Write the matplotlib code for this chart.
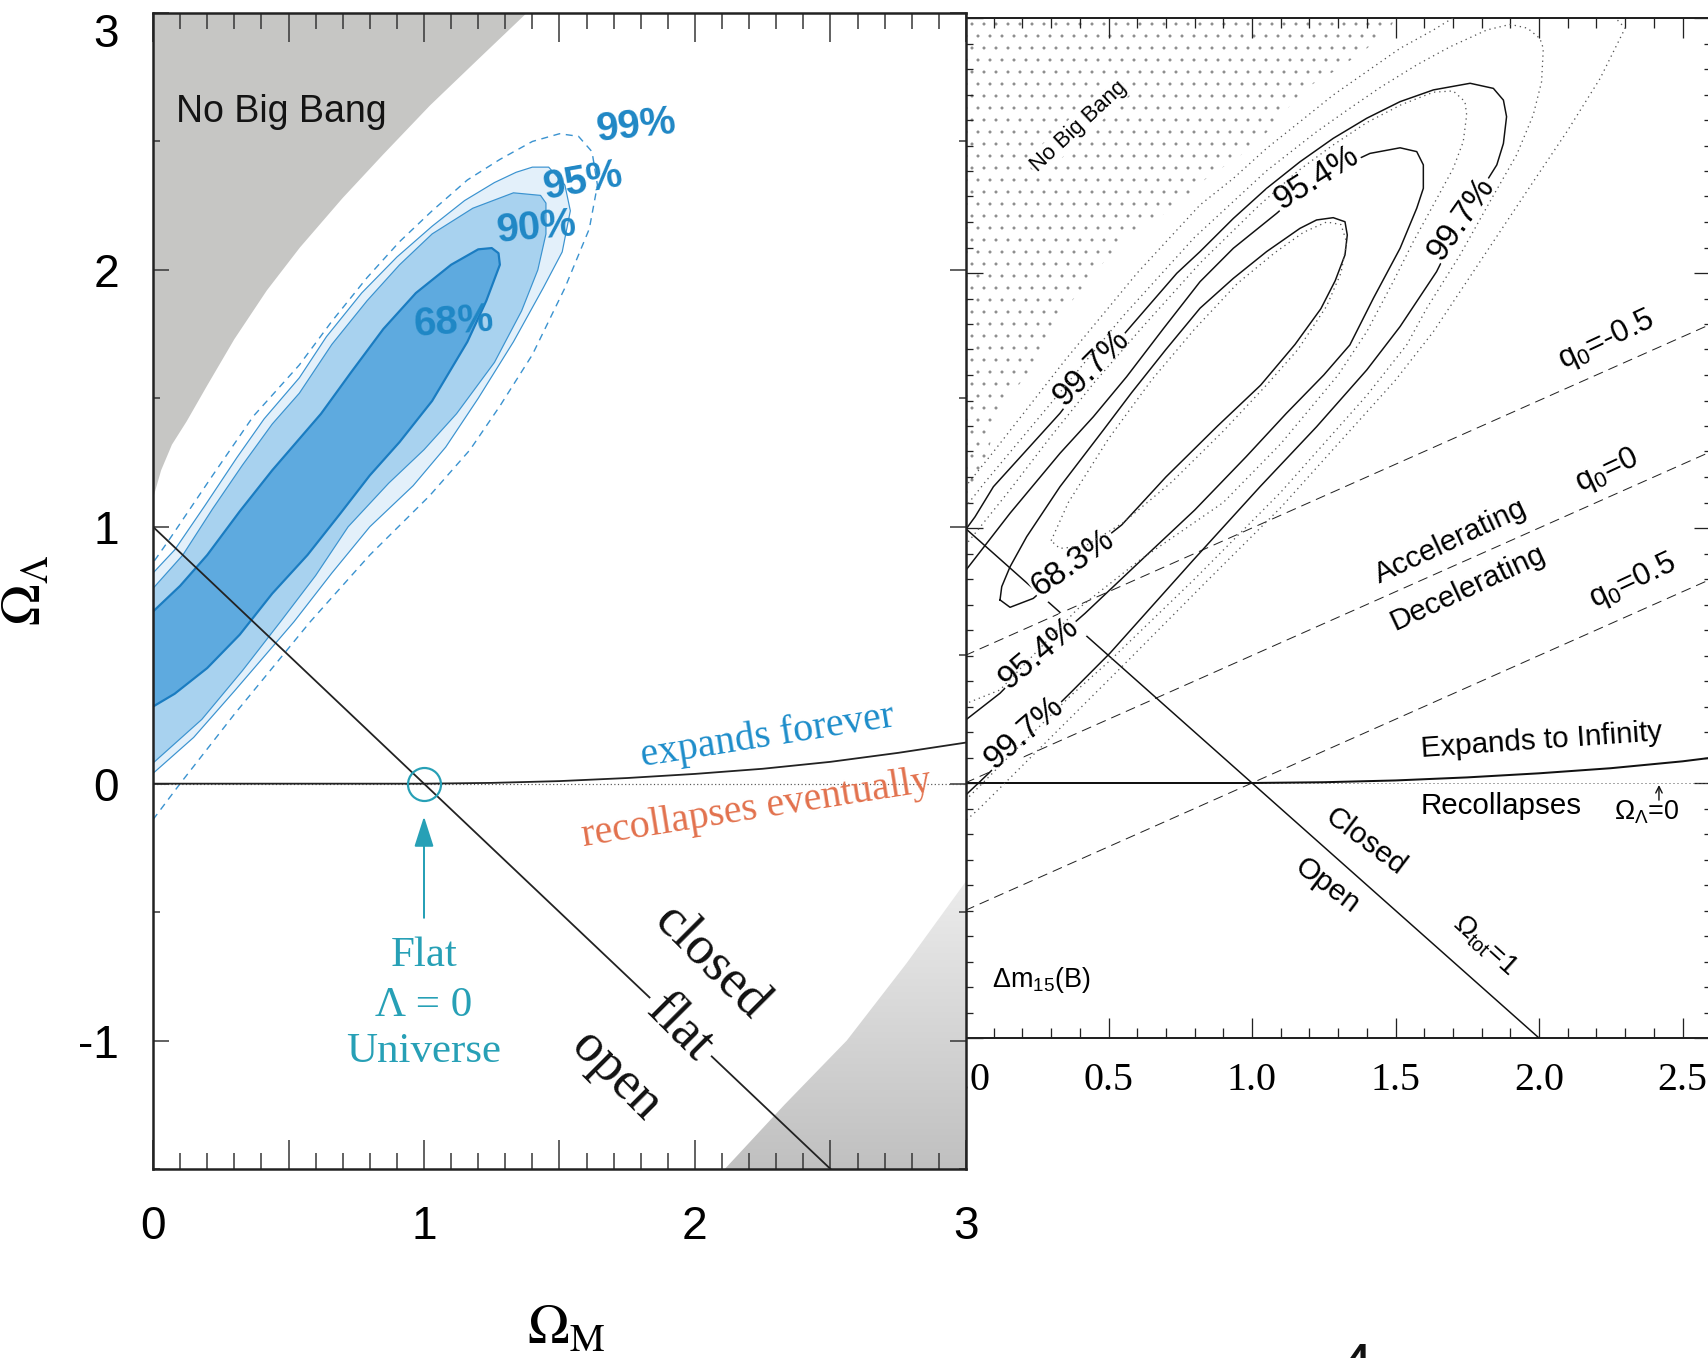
import numpy as np
import matplotlib
matplotlib.use("Agg")
import matplotlib.pyplot as plt
from matplotlib.patches import Polygon
from matplotlib.colors import LinearSegmentedColormap
from matplotlib.ticker import MultipleLocator, FuncFormatter

plt.rcParams['font.family'] = ['Liberation Sans', 'DejaVu Sans']
plt.rcParams['mathtext.fontset'] = 'custom'
plt.rcParams['mathtext.rm'] = 'Liberation Sans'
plt.rcParams['mathtext.it'] = 'Liberation Sans:italic'
plt.rcParams['mathtext.bf'] = 'Liberation Sans:bold'
plt.rcParams['axes.unicode_minus'] = False
plt.rcParams['hatch.linewidth'] = 0.5
plt.rcParams['hatch.color'] = '#8a8a8a'

# ---------------- left panel (Omega_M, Omega_Lambda) ----------------
# no big bang boundary, upper left
nbb_om = [0.0, 0.03, 0.07, 0.124, 0.20, 0.30, 0.42, 0.542, 0.70, 0.85, 1.022, 1.20, 1.379]
nbb_ol = [1.11, 1.22, 1.32, 1.41, 1.55, 1.73, 1.92, 2.087, 2.28, 2.45, 2.64, 2.82, 3.0]
# excluded region, lower right
low_om = [2.11, 2.33, 2.56, 2.78, 3.0]
low_ol = [-1.5, -1.25, -1.0, -0.70, -0.38]

# confidence contours
om68 = [0.00, 0.08, 0.20, 0.32, 0.44, 0.57, 0.69, 0.80, 0.91, 1.03, 1.16, 1.23, 1.28, 1.275,
        1.25, 1.20, 1.10, 0.97, 0.85, 0.73, 0.62, 0.53, 0.44, 0.32, 0.20, 0.10, 0.00]
ol68 = [0.30, 0.35, 0.45, 0.58, 0.74, 0.89, 1.05, 1.20, 1.33, 1.49, 1.72, 1.88, 2.02, 2.065,
        2.085, 2.08, 2.02, 1.91, 1.77, 1.60, 1.44, 1.33, 1.22, 1.06, 0.89, 0.77, 0.67]
om90 = [0.00, 0.18, 0.33, 0.47, 0.60, 0.72, 0.87, 1.00, 1.12, 1.26, 1.36, 1.42, 1.45, 1.45, 1.43,
        1.33, 1.18, 1.03, 0.91, 0.79, 0.66, 0.54, 0.44, 0.33, 0.22, 0.11, 0.00]
ol90 = [0.08, 0.25, 0.44, 0.63, 0.81, 1.00, 1.17, 1.30, 1.44, 1.64, 1.84, 2.00, 2.14, 2.26, 2.29,
        2.30, 2.24, 2.14, 2.02, 1.88, 1.71, 1.52, 1.40, 1.24, 1.07, 0.89, 0.76]
om95 = [0.00, 0.15, 0.30, 0.52, 0.66, 0.80, 0.96, 1.08, 1.20, 1.33, 1.44, 1.51, 1.54, 1.52, 1.46,
        1.40, 1.34, 1.26, 1.15, 1.03, 0.90, 0.77, 0.64, 0.54, 0.41, 0.31, 0.19, 0.08, 0.00]
ol95 = [0.04, 0.18, 0.36, 0.63, 0.82, 1.00, 1.16, 1.31, 1.50, 1.72, 1.93, 2.07, 2.23, 2.33, 2.40,
        2.40, 2.38, 2.34, 2.27, 2.17, 2.05, 1.91, 1.74, 1.58, 1.42, 1.27, 1.08, 0.91, 0.82]
om99 = [0.00, 0.10, 0.30, 0.58, 0.80, 1.02, 1.17, 1.28, 1.40, 1.52, 1.61, 1.64, 1.62, 1.57, 1.50,
        1.40, 1.28, 1.16, 1.03, 0.91, 0.79, 0.66, 0.54, 0.37, 0.22, 0.06, 0.00]
ol99 = [-0.14, 0.00, 0.27, 0.63, 0.89, 1.12, 1.30, 1.47, 1.67, 1.93, 2.16, 2.33, 2.46, 2.52, 2.53,
        2.50, 2.43, 2.35, 2.23, 2.11, 1.97, 1.80, 1.63, 1.43, 1.20, 0.95, 0.86]

# expand / recollapse boundary (shared by both panels)
rc_om = [0.0, 1.0, 1.25, 1.5, 1.75, 2.0, 2.25, 2.5, 2.75, 3.0]
rc_ol = [0.0, 0.0, 0.003, 0.01, 0.022, 0.038, 0.058, 0.085, 0.12, 0.16]

# flat universe line and the flat, Lambda = 0 point
flat_om = [0.0, 2.5]
flat_ol = [1.0, -1.5]
eds_om = [1.0]
eds_ol = [0.0]

# ---------------- right panel ----------------
nbbr_om = [0.0, 0.03, 0.08, 0.12, 0.24, 0.33, 0.45, 0.56, 0.72, 0.84, 0.97, 1.06, 1.12, 1.18,
           1.30, 1.40, 1.48, 1.50, 0.0]
nbbr_ol = [1.06, 1.14, 1.30, 1.46, 1.64, 1.83, 2.00, 2.14, 2.25, 2.37, 2.47, 2.56, 2.64, 2.72,
           2.80, 2.88, 2.96, 3.0, 3.0]

r68_om = [0.122, 0.157, 0.238, 0.377, 0.546, 0.70, 0.88, 1.03, 1.15, 1.24, 1.29, 1.324, 1.332,
          1.324, 1.283, 1.225, 1.167, 1.051, 0.935, 0.819, 0.70, 0.58, 0.482, 0.331, 0.215,
          0.157, 0.128, 0.122]
r68_ol = [0.718, 0.689, 0.724, 0.862, 1.012, 1.20, 1.40, 1.56, 1.72, 1.86, 1.97, 2.071, 2.149,
          2.201, 2.217, 2.208, 2.175, 2.084, 1.979, 1.862, 1.70, 1.53, 1.384, 1.162, 0.966,
          0.848, 0.77, 0.718]
r95_om = [0.0, 0.122, 0.25, 0.418, 0.62, 0.80, 0.98, 1.12, 1.25, 1.341, 1.423, 1.516, 1.574,
          1.597, 1.597, 1.574, 1.516, 1.411, 1.225, 1.086, 0.935, 0.819, 0.69, 0.563, 0.447,
          0.331, 0.157, 0.0]
r95_ol = [0.245, 0.352, 0.50, 0.665, 0.88, 1.07, 1.28, 1.45, 1.60, 1.718, 1.901, 2.097, 2.254,
          2.332, 2.424, 2.476, 2.491, 2.469, 2.371, 2.234, 2.097, 1.966, 1.78, 1.593, 1.436,
          1.293, 1.058, 0.83]
r99_om = [0.0, 0.076, 0.366, 0.505, 0.796, 1.028, 1.225, 1.40, 1.516, 1.643, 1.736, 1.853,
          1.876, 1.887, 1.876, 1.841, 1.760, 1.632, 1.516, 1.40, 1.283, 1.167, 1.051, 0.935,
          0.819, 0.738, 0.587, 0.447, 0.331, 0.215, 0.099, 0.035, 0.0]
r99_ol = [-0.05, 0.031, 0.352, 0.509, 0.875, 1.162, 1.397, 1.62, 1.79, 2.005, 2.214, 2.424,
          2.508, 2.613, 2.678, 2.724, 2.744, 2.718, 2.672, 2.607, 2.528, 2.436, 2.332, 2.214,
          2.084, 1.999, 1.803, 1.62, 1.45, 1.306, 1.162, 1.044, 0.99]

# second data set, dotted contours
d0_om = [0.30, 0.36, 0.50, 0.65, 0.80, 0.95, 1.08, 1.18, 1.26, 1.31, 1.33, 1.31, 1.26, 1.16,
         1.05, 0.90, 0.72, 0.55, 0.42, 0.33, 0.30]
d0_ol = [0.95, 1.10, 1.35, 1.58, 1.78, 1.96, 2.08, 2.16, 2.20, 2.19, 2.12, 2.00, 1.87, 1.70,
         1.56, 1.38, 1.18, 1.02, 0.93, 0.92, 0.95]
d1_om = [0.0, 0.15, 0.30, 0.45, 0.62, 0.82, 1.02, 1.16, 1.28, 1.40, 1.52, 1.632, 1.701, 1.742,
         1.748, 1.736, 1.701, 1.632, 1.562, 1.492, 1.40, 1.30, 1.10, 0.90, 0.61, 0.39, 0.122, 0.0]
d1_ol = [0.93, 1.14, 1.36, 1.57, 1.79, 2.04, 2.26, 2.40, 2.50, 2.59, 2.66, 2.709, 2.714, 2.672,
         2.62, 2.515, 2.41, 2.267, 2.123, 1.966, 1.77, 1.60, 1.33, 1.10, 0.875, 0.68, 0.365, 0.31]
d2_om = [0.0, 0.07, 0.30, 0.55, 0.80, 1.05, 1.225, 1.341, 1.45, 1.574, 1.69, 1.818, 1.90, 1.96,
         2.003, 2.015, 2.009, 1.98, 1.922, 1.829, 1.725, 1.609, 1.539, 1.40, 1.10, 0.80, 0.505,
         0.366, 0.15, 0.0]
d2_ol = [1.08, 1.18, 1.49, 1.83, 2.14, 2.40, 2.554, 2.646, 2.73, 2.816, 2.887, 2.953, 2.975,
         2.96, 2.92, 2.881, 2.75, 2.62, 2.463, 2.28, 2.071, 1.862, 1.718, 1.52, 1.14, 0.80, 0.48,
         0.34, 0.10, -0.07]
d3_om = [0.0, 0.10, 0.35, 0.60, 0.819, 0.935, 1.051, 1.167, 1.283, 1.40, 1.516, 1.632, 1.70,
         1.85, 2.05, 2.25, 2.30, 2.213, 2.097, 1.98, 1.864, 1.748, 1.632, 1.50, 1.30, 1.10, 0.85,
         0.55, 0.30, 0.05, 0.0]
d3_ol = [1.16, 1.30, 1.66, 2.00, 2.267, 2.371, 2.489, 2.593, 2.698, 2.79, 2.881, 2.953, 3.0,
         3.05, 3.05, 3.02, 2.96, 2.763, 2.554, 2.358, 2.162, 1.966, 1.77, 1.58, 1.33, 1.08, 0.80,
         0.46, 0.18, -0.10, -0.15]

q0_values = [-0.5, 0.0, 0.5]

# ---------------- figure ----------------
W, H, DPI = 1708, 1358, 72
fig = plt.figure(figsize=(W / DPI, H / DPI), dpi=DPI, facecolor='white')

ax2 = fig.add_axes([965 / W, 1 - 1038 / H, 747 / W, 1020 / H])
ax1 = fig.add_axes([153 / W, 1 - 1169 / H, 813 / W, 1156 / H])

# ===== left panel =====
blue_txt = '#1f87c5'
teal = '#27a0b6'

ax1.fill(nbb_om + [0.0], nbb_ol + [3.0], color='#c6c6c4', lw=0, zorder=1)

low_poly = Polygon(np.column_stack([low_om + [3.0], low_ol + [-1.5]]), closed=True,
                   facecolor='none', edgecolor='none', transform=ax1.transData)
ax1.add_patch(low_poly)
shade = LinearSegmentedColormap.from_list('shade', ['#c0c0c0', '#ececec'])
im = ax1.imshow(np.linspace(0, 1, 200).reshape(-1, 1), extent=[2.0, 3.0, -1.5, -0.38],
                origin='lower', cmap=shade, aspect='auto', zorder=1)
im.set_clip_path(low_poly)

ax1.fill(om95, ol95, color='#e3f0fa', lw=0, zorder=2)
ax1.fill(om90, ol90, color='#a8d2ef', lw=0, zorder=3)
ax1.fill(om68, ol68, color='#5eaadf', lw=0, zorder=4)
ax1.plot(om95, ol95, color='#3b93d0', lw=1.2, zorder=5)
ax1.plot(om90, ol90, color='#3b93d0', lw=1.2, zorder=5)
ax1.plot(om68, ol68, color='#1a7cc1', lw=2.2, zorder=5)
ax1.plot(om99, ol99, color='#3b93d0', lw=1.4, ls=(0, (5, 4)), zorder=5)

ax1.axhline(0, color='#555555', lw=1.2, ls=(0, (1, 2)), zorder=5)
ax1.plot(rc_om, rc_ol, color='#222222', lw=1.8, zorder=6)
ax1.plot(flat_om, flat_ol, color='#222222', lw=1.8, zorder=6)
ax1.plot(eds_om, eds_ol, marker='o', ms=33, mfc='none', mec=teal, mew=2.2, zorder=7)
ax1.annotate('', xy=(1.0, -0.12), xytext=(1.0, -0.53),
             arrowprops=dict(arrowstyle='-|>,head_length=1.0,head_width=0.32',
                             color=teal, lw=2, mutation_scale=26), zorder=7)

ax1.text(0.472, 2.615, 'No Big Bang', fontsize=37.5, ha='center', va='center', color='#141414')
for lab, x, y, rot in [('99%', 1.785, 2.56, 6), ('95%', 1.588, 2.346, 10),
                       ('90%', 1.415, 2.165, 5), ('68%', 1.108, 1.795, 4)]:
    ax1.text(x, y, lab, fontsize=40, fontweight='bold', color=blue_txt, rotation=rot,
             ha='center', va='center', zorder=8)

serif = 'Liberation Serif'
ax1.text(2.269, 0.182, 'expands forever', family=serif, fontsize=40, color='#1d8dca',
         rotation=9, ha='center', va='center', zorder=8)
ax1.text(2.229, -0.098, 'recollapses eventually', family=serif, fontsize=40, color='#e2714d',
         rotation=9, ha='center', va='center', zorder=8)
ax1.text(2.059, -0.70, 'closed', family=serif, fontsize=54, rotation=-45,
         ha='center', va='center', color='#111111', zorder=8, rotation_mode='anchor')
ax1.text(1.944, -0.95, 'flat', family=serif, fontsize=54, rotation=-45,
         ha='center', va='center', color='#111111', zorder=8, rotation_mode='anchor',
         bbox=dict(facecolor='white', edgecolor='none', pad=6))
ax1.text(1.707, -1.14, 'open', family=serif, fontsize=54, rotation=-45,
         ha='center', va='center', color='#111111', zorder=8, rotation_mode='anchor')
for line, y in [('Flat', -0.67), ('Λ = 0', -0.865), ('Universe', -1.045)]:
    ax1.text(1.0, y, line, family=serif, fontsize=43, color=teal, ha='center', va='center',
             zorder=8)

ax1.set_xlim(0, 3)
ax1.set_ylim(-1.5, 3)
ax1.xaxis.set_major_locator(MultipleLocator(0.5))
ax1.xaxis.set_minor_locator(MultipleLocator(0.1))
ax1.xaxis.set_major_formatter(FuncFormatter(
    lambda v, p: f'{v:.0f}' if abs(v - round(v)) < 1e-6 else ''))
ax1.set_yticks([-1, 0, 1, 2, 3])
ax1.yaxis.set_minor_locator(MultipleLocator(0.5))
ax1.yaxis.set_major_formatter(FuncFormatter(lambda v, p: f'{v:.0f}'))
ax1.tick_params(which='both', direction='in', top=True, right=True, width=1.5,
                color='#333333', labelsize=46)
ax1.tick_params(axis='x', which='major', length=29, pad=36)
ax1.tick_params(axis='x', which='minor', length=16)
ax1.tick_params(axis='y', which='major', length=16, pad=34)
ax1.tick_params(axis='y', which='minor', length=7)
# the top label hangs below its tick so it stays inside the page
ax1.get_yticklabels()[-1].set_va('top')
for s in ax1.spines.values():
    s.set_linewidth(2.5)
    s.set_color('#222222')
    s.set_zorder(10)

# ===== right panel =====
ax2.add_patch(Polygon(np.column_stack([nbbr_om, nbbr_ol]), closed=True, facecolor='none',
                      edgecolor='#8a8a8a', lw=0, hatch='.', zorder=1))

for q0 in q0_values:
    ax2.axline((0, -q0), slope=0.5, color='#222222', lw=1.0, ls=(0, (10, 6)), zorder=2)

ax2.plot(r68_om, r68_ol, color='#111111', lw=1.5, zorder=3)
ax2.plot(r95_om, r95_ol, color='#111111', lw=1.5, zorder=3)
ax2.plot(r99_om, r99_ol, color='#111111', lw=1.5, zorder=3)

ax2.axhline(0, color='#555555', lw=1.0, ls=(0, (1, 3)), zorder=3)
ax2.plot(rc_om, rc_ol, color='#111111', lw=2.0, zorder=4)
ax2.plot(flat_om, flat_ol, color='#111111', lw=1.5, zorder=4)

lab_box = dict(facecolor='white', edgecolor='none', pad=1.5)
for lab, x, y, rot in [('95.4%', 1.225, 2.371, 32), ('99.7%', 1.731, 2.212, 55),
                       ('99.7%', 0.441, 1.626, 45), ('68.3%', 0.377, 0.862, 35),
                       ('95.4%', 0.258, 0.509, 40), ('99.7%', 0.206, 0.195, 41)]:
    ax2.text(x, y, lab, fontsize=33, rotation=rot, ha='center', va='center',
             rotation_mode='anchor', bbox=lab_box, zorder=5)

for dx, dy in [(d0_om, d0_ol), (d1_om, d1_ol), (d2_om, d2_ol), (d3_om, d3_ol)]:
    ax2.plot(dx, dy, color='#555555', lw=1.3, ls=(0, (1, 3)), zorder=6)

ax2.text(0.395, 2.574, 'No Big Bang', fontsize=22, rotation=43, ha='center', va='center',
         rotation_mode='anchor', zorder=7,
         bbox=dict(facecolor='white', edgecolor='none', pad=1))
ax2.text(2.236, 1.737, r'q$_0$=-0.5', fontsize=31, rotation=25, ha='center', va='center',
         rotation_mode='anchor', zorder=7)
ax2.text(2.236, 1.225, r'q$_0$=0', fontsize=31, rotation=25, ha='center', va='center',
         rotation_mode='anchor', zorder=7)
ax2.text(2.326, 0.79, r'q$_0$=0.5', fontsize=31, rotation=25, ha='center', va='center',
         rotation_mode='anchor', zorder=7)
ax2.text(1.694, 0.949, 'Accelerating', fontsize=30, rotation=25, ha='center', va='center',
         rotation_mode='anchor', zorder=7)
ax2.text(1.753, 0.767, 'Decelerating', fontsize=30, rotation=25, ha='center', va='center',
         rotation_mode='anchor', zorder=7)
ax2.text(2.01, 0.166, 'Expands to Infinity', fontsize=29.5, rotation=4, ha='center',
         va='center', rotation_mode='anchor', zorder=7)
ax2.text(1.869, -0.091, 'Recollapses', fontsize=29.5, ha='center', va='center', zorder=7)
ax2.text(2.376, -0.113, r'$\Omega_\Lambda$=0', fontsize=27, ha='center', va='center', zorder=7)
ax2.annotate('', xy=(2.418, 0.0), xytext=(2.418, -0.075),
             arrowprops=dict(arrowstyle='->', lw=1.4, color='#111111', mutation_scale=16),
             zorder=7)
ax2.text(1.396, -0.231, 'Closed', fontsize=30, rotation=-37, ha='center', va='center',
         rotation_mode='anchor', zorder=7)
ax2.text(1.262, -0.402, 'Open', fontsize=30, rotation=-37, ha='center', va='center',
         rotation_mode='anchor', zorder=7)
ax2.text(1.811, -0.638, r'$\Omega_{\rm tot}$=1', fontsize=28, rotation=-42, ha='center',
         va='center', rotation_mode='anchor', zorder=7)
ax2.text(0.095, -0.774, r'$\Delta$m$_{\rm 15}$(B)', fontsize=27, ha='left', va='center',
         zorder=7)

ax2.set_xlim(0, 747 / 287)
ax2.set_ylim(-1, 3)
ax2.xaxis.set_major_locator(MultipleLocator(0.5))
ax2.xaxis.set_minor_locator(MultipleLocator(0.1))
ax2.xaxis.set_major_formatter(FuncFormatter(lambda v, p: f'{v:.1f}'))
ax2.yaxis.set_major_locator(MultipleLocator(1))
ax2.yaxis.set_minor_locator(MultipleLocator(0.1))
ax2.tick_params(which='both', direction='in', top=True, right=True, width=1.3,
                color='#222222', labelleft=False)
ax2.tick_params(axis='x', which='major', length=20, pad=24, labelsize=40,
                labelfontfamily='Liberation Serif')
ax2.tick_params(axis='x', which='minor', length=10)
ax2.tick_params(axis='y', which='major', length=18)
ax2.tick_params(axis='y', which='minor', length=8)
for s in ax2.spines.values():
    s.set_linewidth(2.0)
    s.set_color('#222222')
ax2.spines['left'].set_linewidth(3.5)
ax2.spines['left'].set_color('#5a5a5a')

# axis titles
fig.text(566 / W, 1 - 1331 / H, r'$\Omega_{\rm M}$', fontsize=56, math_fontfamily='stix',
         ha='center', va='center')
fig.text(27 / W, 1 - 590 / H, r'$\Omega_\Lambda$', fontsize=56, math_fontfamily='stix',
         rotation=90, ha='center', va='center')
fig.text(1356 / W, 1 - 1342 / H, '4', fontsize=62, ha='center', va='top', color='#111111')

fig.savefig('out.png', dpi=DPI, facecolor='white')
